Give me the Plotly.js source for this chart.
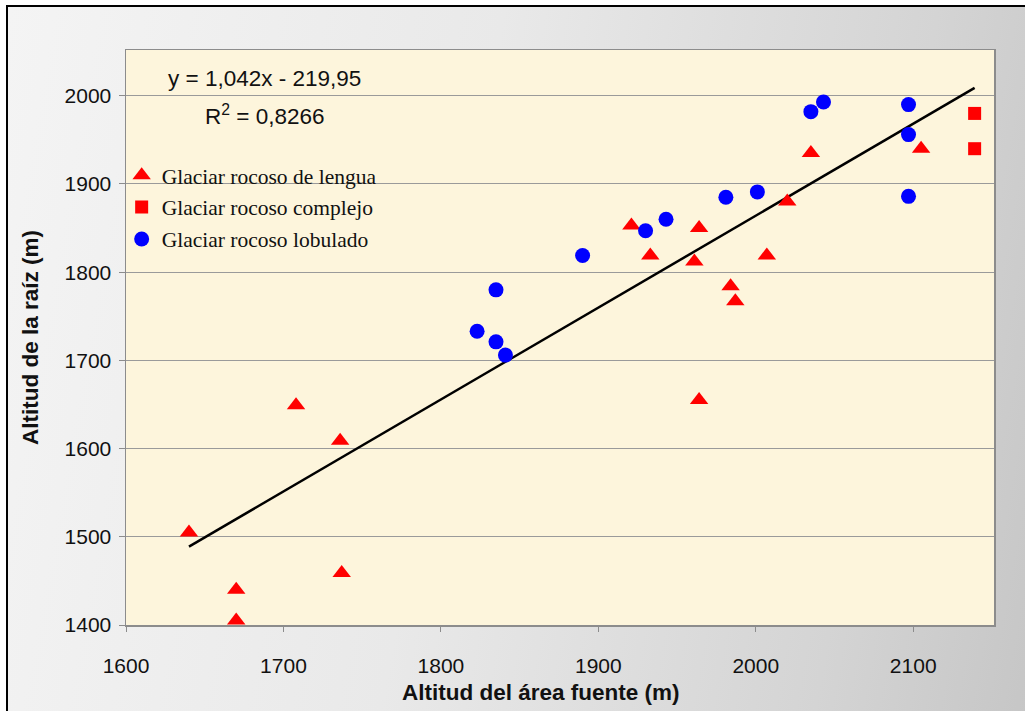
<!DOCTYPE html>
<html>
<head>
<meta charset="utf-8">
<script src="https://cdn.plot.ly/plotly-3.0.1.min.js"></script>
<style>
  html, body { margin: 0; padding: 0; background: #ffffff; overflow: hidden; }
  #frame {
    position: absolute; left: 6px; top: 5px; width: 1100px; height: 800px;
    border-left: 2px solid #000; border-top: 2px solid #000;
    background: linear-gradient(100deg, #f4f4f4 0%, #e9e9e9 40%, #d4d4d4 75%, #c0c0c0 100%);
  }
  #chart { position: absolute; left: 0; top: 0; width: 1025px; height: 711px; }
</style>
</head>
<body>
<div id="frame"></div>
<div id="chart"></div>
<script>
// Glaciar rocoso de lengua (triangles)
const lenguaX = [1640, 1670, 1670, 1708, 1736, 1737, 1921, 1933, 1961, 1964, 1964, 1984, 1987, 2007, 2020, 2035, 2105];
const lenguaY = [1505, 1440, 1405, 1649, 1609, 1459, 1853, 1819, 1812, 1850, 1655, 1784, 1767, 1819, 1880, 1935, 1940];
// Glaciar rocoso complejo (squares)
const complejoX = [2139, 2139];
const complejoY = [1980, 1940];
// Glaciar rocoso lobulado (circles)
const lobuladoX = [1823, 1835, 1835, 1841, 1890, 1930, 1943, 1981, 2001, 2035, 2043, 2097, 2097, 2097];
const lobuladoY = [1733, 1780, 1721, 1706, 1819, 1847, 1860, 1885, 1891, 1982, 1993, 1990, 1956, 1886];
// Regression shown in the chart
const slope = 1.042;
const intercept = -219.95;
const r2 = "0,8266";
const seriesNames = ["Glaciar rocoso de lengua", "Glaciar rocoso complejo", "Glaciar rocoso lobulado"];
const xTicks = [1600, 1700, 1800, 1900, 2000, 2100];
const yTicks = [1400, 1500, 1600, 1700, 1800, 1900, 2000];
const xTitle = 'Altitud del área fuente (m)';
const yTitle = 'Altitud de la raíz (m)';

const allX = lenguaX.concat(complejoX, lobuladoX);
const xMin = Math.min(...allX), xMax = Math.max(...allX);
const trendX = [xMin, xMax];
const trendY = trendX.map(x => slope * x + intercept);

const traces = [
  { x: trendX, y: trendY, type: 'scatter', mode: 'lines', showlegend: false, hoverinfo: 'skip',
    line: { color: '#000000', width: 2.5 } },
  { x: lenguaX, y: lenguaY, type: 'scatter', mode: 'markers', name: seriesNames[0], legendgroup: 'a',
    marker: { symbol: 'triangle-up', size: 16, color: '#ff0000' } },
  { x: complejoX, y: complejoY, type: 'scatter', mode: 'markers', name: seriesNames[1], legendgroup: 'b',
    marker: { symbol: 'square', size: 13, color: '#ff0000' } },
  { x: lobuladoX, y: lobuladoY, type: 'scatter', mode: 'markers', name: seriesNames[2], legendgroup: 'c',
    marker: { symbol: 'circle', size: 15, color: '#0000ff' } }
];

const sans = 'Arial, "Liberation Sans", sans-serif';
const axisFont = { family: sans, size: 21, color: '#111' };
const titleFont = { family: sans, size: 22.5, color: '#111', weight: 'bold' };
const layout = {
  width: 1025, height: 711,
  margin: { l: 126, r: 31, t: 50, b: 86, pad: 0 },
  paper_bgcolor: 'rgba(0,0,0,0)',
  plot_bgcolor: '#fdf5dc',
  font: axisFont,
  showlegend: true,
  legend: {
    x: -0.005, y: 0.818, xanchor: 'left', yanchor: 'top',
    bgcolor: 'rgba(0,0,0,0)', borderwidth: 0,
    traceorder: 'grouped', tracegroupgap: 1,
    font: { family: '"Liberation Serif", "Times New Roman", serif', size: 21.5, color: '#111' }
  },
  xaxis: {
    range: [1600, 2151.3], tickvals: xTicks, ticktext: xTicks.map(String),
    showgrid: false, zeroline: false,
    showline: true, linecolor: '#8c8c8c', linewidth: 1.5, mirror: true,
    ticks: 'outside', ticklen: 5, tickcolor: '#8c8c8c', ticklabelstandoff: 16,
    tickfont: axisFont
  },
  yaxis: {
    range: [1400, 2051.9], tickvals: yTicks, ticktext: yTicks.map(String),
    showgrid: true, gridcolor: '#9a9a9a', gridwidth: 1, zeroline: false,
    showline: true, linecolor: '#8c8c8c', linewidth: 1.5, mirror: true,
    ticks: 'outside', ticklen: 6, tickcolor: '#8c8c8c', ticklabelstandoff: 3,
    tickfont: axisFont,
    title: { text: yTitle, standoff: 19, font: titleFont }
  },
  annotations: [
    { xref: 'paper', yref: 'paper', x: 0.478, y: -0.118, showarrow: false, xanchor: 'center', yanchor: 'middle',
      text: xTitle, font: titleFont },
    { xref: 'paper', yref: 'paper', x: 0.16, y: 0.951, showarrow: false, xanchor: 'center', yanchor: 'middle',
      text: 'y = ' + String(slope).replace('.', ',') + 'x - ' + String(-intercept).replace('.', ','),
      font: { family: sans, size: 22.5, color: '#111' } },
    { xref: 'paper', yref: 'paper', x: 0.16, y: 0.887, showarrow: false, xanchor: 'center', yanchor: 'middle',
      text: 'R<sup>2</sup> = ' + r2,
      font: { family: sans, size: 22.5, color: '#111' } }
  ]
};

Plotly.newPlot('chart', traces, layout, { displayModeBar: false, staticPlot: true });
</script>
</body>
</html>
